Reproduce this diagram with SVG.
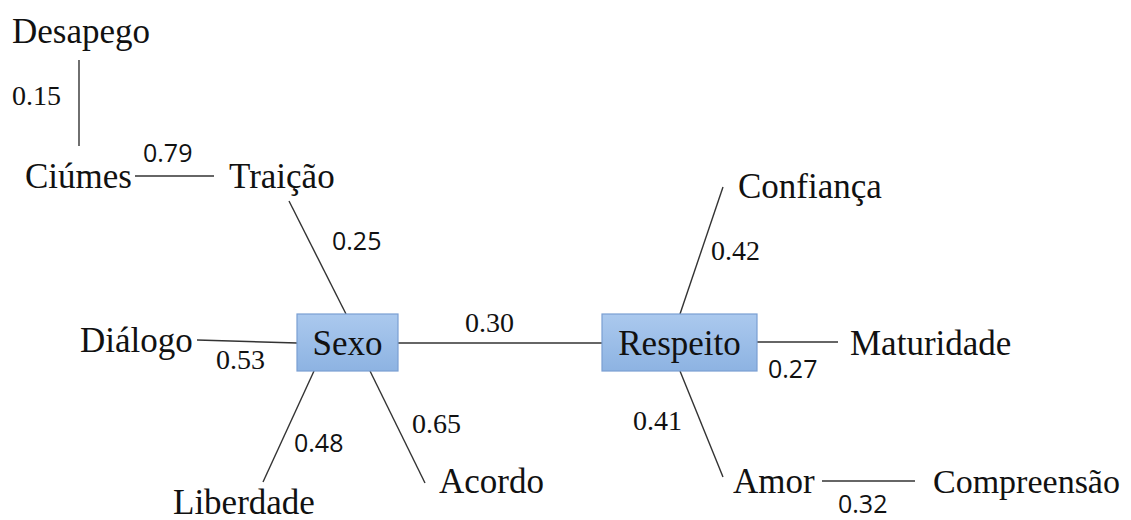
<svg xmlns="http://www.w3.org/2000/svg" width="1131" height="520" viewBox="0 0 1131 520">
<defs>
<linearGradient id="boxfill" x1="0" y1="0" x2="0" y2="1">
<stop offset="0" stop-color="#abc9ee"/>
<stop offset="1" stop-color="#8db3e2"/>
</linearGradient>
<style>
.lbl{font-family:"Liberation Serif","Times New Roman",serif;font-size:35px;fill:#111}
.num{font-family:"Liberation Serif","Times New Roman",serif;font-size:28px;fill:#111}
.nums{font-family:"Open Sans","Liberation Sans",sans-serif;font-size:25px;fill:#111}
.box{fill:url(#boxfill);stroke:#7a9fd2;stroke-width:1.2}
.edge{stroke:#333;stroke-width:1.4;fill:none}
</style>
</defs>
<rect width="1131" height="520" fill="#fff"/>
<g id="connectors">
<line class="edge" x1="79" y1="60" x2="79" y2="146"/>
<line class="edge" x1="135" y1="176" x2="214" y2="176"/>
<line class="edge" x1="289" y1="201" x2="346" y2="314"/>
<line class="edge" x1="197" y1="340" x2="297" y2="343"/>
<line class="edge" x1="398" y1="343" x2="602" y2="343"/>
<line class="edge" x1="314" y1="371" x2="263" y2="482"/>
<line class="edge" x1="370" y1="371" x2="425" y2="483"/>
<line class="edge" x1="680" y1="314" x2="723" y2="187"/>
<line class="edge" x1="757" y1="342" x2="838" y2="342"/>
<line class="edge" x1="680" y1="371" x2="723" y2="477"/>
<line class="edge" x1="822" y1="481" x2="915" y2="481"/>
<text class="num" x="12" y="105">0.15</text>
<text class="nums" x="143" y="162">0.79</text>
<text class="nums" x="332" y="250">0.25</text>
<text class="num" x="465" y="332">0.30</text>
<text class="num" x="216" y="369">0.53</text>
<text class="nums" x="294" y="452">0.48</text>
<text class="num" x="412" y="433">0.65</text>
<text class="num" x="711" y="260">0.42</text>
<text class="nums" x="768" y="378">0.27</text>
<text class="num" x="633" y="430">0.41</text>
<text class="nums" x="838" y="513">0.32</text>
</g>
<g id="node-desapego"><text class="lbl" x="12" y="43">Desapego</text></g>
<g id="node-ciumes"><text class="lbl" x="25" y="188">Ciúmes</text></g>
<g id="node-traicao"><text class="lbl" x="229" y="188">Traição</text></g>
<g id="node-dialogo"><text class="lbl" x="80" y="352">Diálogo</text></g>
<g id="node-sexo">
<rect class="box" x="297" y="314" width="101" height="57"/>
<text class="lbl" x="347.5" y="355" text-anchor="middle">Sexo</text>
</g>
<g id="node-liberdade"><text class="lbl" x="173" y="514">Liberdade</text></g>
<g id="node-acordo"><text class="lbl" x="439" y="493">Acordo</text></g>
<g id="node-respeito">
<rect class="box" x="602" y="314" width="155" height="57"/>
<text class="lbl" x="679.5" y="355" text-anchor="middle">Respeito</text>
</g>
<g id="node-confianca"><text class="lbl" x="738" y="198">Confiança</text></g>
<g id="node-maturidade"><text class="lbl" x="850" y="355">Maturidade</text></g>
<g id="node-amor"><text class="lbl" x="733" y="493">Amor</text></g>
<g id="node-compreensao"><text class="lbl" x="933" y="493" style="font-size:34px">Compreensão</text></g>
</svg>
